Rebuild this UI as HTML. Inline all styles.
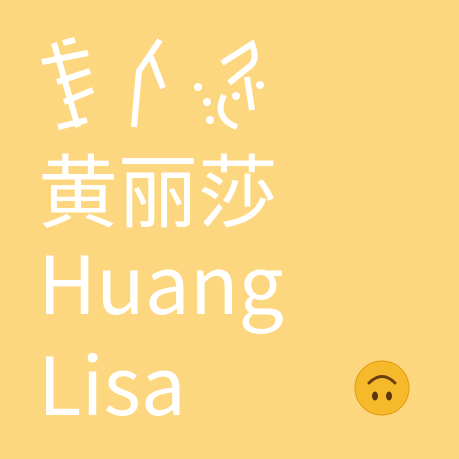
<!DOCTYPE html>
<html><head><meta charset="utf-8"><style>
body{margin:0;width:459px;height:459px;background:#fdd77f;overflow:hidden;position:relative;font-family:"Noto Sans CJK SC",sans-serif;color:#fff}
.t{position:absolute;left:38px;white-space:nowrap;line-height:1}
</style></head><body>
<svg width="459" height="459" style="position:absolute;left:0;top:0" fill="none" stroke="#fff" stroke-width="6" stroke-linecap="butt">
<g>
<path d="M54 43 L78 127"/><path d="M42 62 L88 53"/><path d="M63 43 L75 40"/><path d="M57 82 L90 71"/><path d="M64 102 L93 90"/><path d="M58 127 L87 120"/>
</g>
<g>
<path d="M160 40 L139 71 L134 127"/><path d="M151 57 L163 88"/>
</g>
<g>
<path d="M222 63 L252 44 Q258 60 250 66 L229 83"/><path d="M247 77 L252 110"/><path d="M224 95 Q213 118 237 127"/>
<g fill="#fff" stroke="none"><circle cx="198" cy="87" r="4"/><circle cx="207" cy="102" r="4"/><circle cx="210" cy="120" r="4"/><circle cx="260" cy="85" r="4"/><circle cx="236" cy="96" r="4"/></g>
</g>
</svg>
<div class="t" style="top:147px;font-size:80px">黄丽莎</div>
<div class="t" style="top:240px;font-size:80px">Huang</div>
<div class="t" style="top:341px;font-size:80px">Lisa</div>
<svg width="60" height="60" style="position:absolute;left:352px;top:358px">
<circle cx="30" cy="30" r="27" fill="#f5b92b"/><circle cx="30" cy="30" r="27" fill="none" stroke="#e39a10" stroke-width="1"/>
<path d="M17 25 Q30 12 43 25" stroke="#6b3e10" stroke-width="3" fill="none" stroke-linecap="round"/>
<ellipse cx="23" cy="38" rx="3" ry="4.5" fill="#5a3510"/><ellipse cx="37" cy="38" rx="3" ry="4.5" fill="#5a3510"/>
</svg>
</body></html>
